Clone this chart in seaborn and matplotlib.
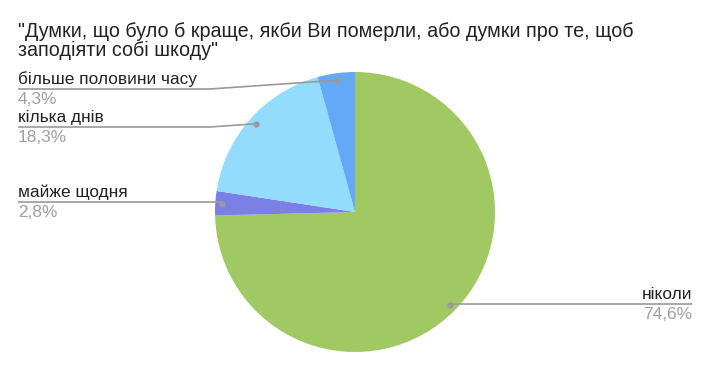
import numpy as np
import matplotlib
matplotlib.use("Agg")
import matplotlib.pyplot as plt
import seaborn as sns

title = "\"Думки, що було б краще, якби Ви померли, або думки про те, щоб\nзаподіяти собі шкоду\""
categories = ["ніколи", "майже щодня", "кілька днів", "більше половини часу"]
values = [74.6, 2.8, 18.3, 4.3]
pct_labels = ["74,6%", "2,8%", "18,3%", "4,3%"]
colors = ["#a0c964", "#7c7fe6", "#93dcfe", "#64a8f8"]

sns.set_theme(style="white")
plt.rcParams["font.family"] = ["Liberation Sans", "DejaVu Sans"]

W, H = 711, 370
fig = plt.figure(figsize=(W / 100, H / 100), dpi=100)
ax = fig.add_axes([0, 0, 1, 1])
ax.set_xlim(0, W)
ax.set_ylim(0, H)
ax.set_aspect("equal")
ax.axis("off")

cx, cy, R = 355, H - 212, 140
wedges, _ = ax.pie(values, colors=sns.color_palette(colors), startangle=90,
                   counterclock=False, center=(cx, cy), radius=R,
                   wedgeprops=dict(linewidth=0))
ax.set_xlim(0, W)
ax.set_ylim(0, H)

for i, line in enumerate(title.split("\n")):
    ax.text(18, H - (37 + 19 * i), line, ha="left", va="baseline",
            fontsize=14.2, color="#222222")

# label layout: (text x, line y in px from top, elbow x, side)
layout = {
    "ніколи": (692, 304, None, "right"),
    "майже щодня": (18, 202, None, "left"),
    "кілька днів": (18, 127, 210, "left"),
    "більше половини часу": (18, 89, 210, "left"),
}
lc = "#999999"
for w, cat, pct in zip(wedges, categories, pct_labels):
    mid = np.deg2rad((w.theta1 + w.theta2) / 2)
    dx, dy = cx + 0.95 * R * np.cos(mid), cy + 0.95 * R * np.sin(mid)
    tx, ly, ex, side = layout[cat]
    LY = H - ly
    if side == "left":
        if ex is None:
            xs, ys = [tx, dx], [LY, LY]
        else:
            xs, ys = [tx, ex, dx], [LY, LY, dy]
        ha = "left"
    else:
        xs, ys = [dx, tx], [LY, LY]
        ha = "right"
    ax.plot(xs, ys, color=lc, lw=1.2, solid_capstyle="butt")
    ax.plot([dx], [dy], "o", color=lc, ms=4.5, mec="none")
    ax.text(tx, LY + 5, cat, ha=ha, va="baseline", fontsize=12.4, color="#222222")
    ax.text(tx, LY - 15, pct, ha=ha, va="baseline", fontsize=12.4, color="#9e9e9e")

fig.savefig("out.png", dpi=100, facecolor="white")
